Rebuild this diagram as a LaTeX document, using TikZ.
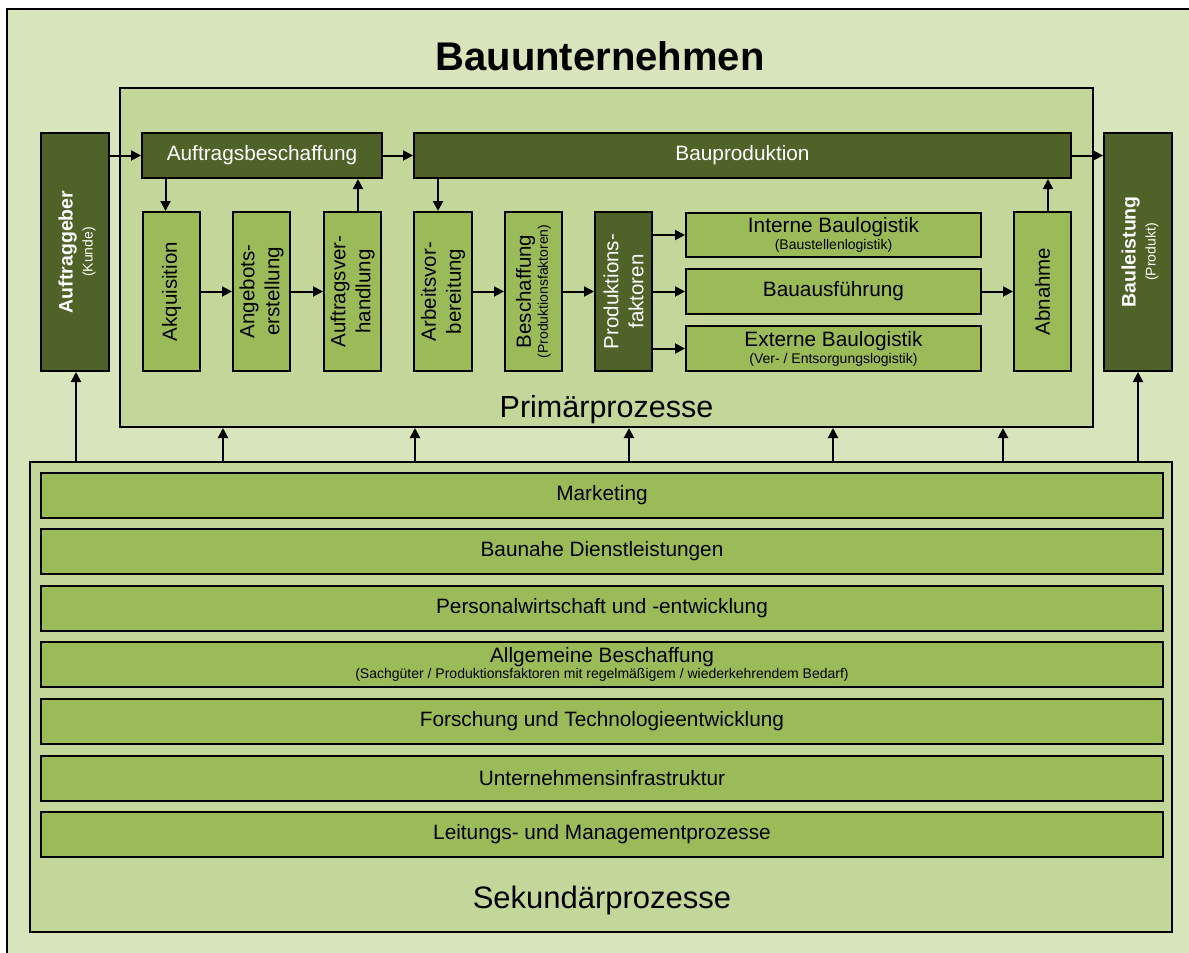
\documentclass[tikz,border=0pt]{standalone}
\usepackage{fontspec}
\setmainfont{Liberation Sans}
\usetikzlibrary{arrows.meta}

\definecolor{bgouter}{HTML}{D8E4BC}
\definecolor{bgpanel}{HTML}{C4D79B}
\definecolor{midgreen}{HTML}{9BBB59}
\definecolor{darkgreen}{HTML}{4F6228}

\newcommand{\fsz}[2]{\fontsize{#1}{#2}\selectfont}
\newcommand{\vlabel}[1]{\rotatebox{90}{#1}}
% two centred lines whose baselines lie exactly #3 apart
\newcommand{\stacktwo}[3]{\vbox{\baselineskip=#3\lineskiplimit=-\maxdimen
  \halign{\hfil##\hfil\cr#1\cr#2\cr}}}

\tikzset{
  box/.style={draw=black, line width=2pt, inner sep=0pt, align=center},
  darkbox/.style={box, fill=darkgreen, text=white},
  lightbox/.style={box, fill=midgreen, text=black},
  panel/.style={box, fill=bgpanel},
  bar/.style={lightbox, minimum width=1122, minimum height=45},
  arr/.style={line width=2pt, -{Triangle[length=10pt,width=10pt]}},
  htext/.style={font=\fsz{20.8}{24}},
}

\begin{document}
\begin{tikzpicture}[x=1pt,y=-1pt]
  \useasboundingbox (0,0) rectangle (1189,953);
  % outer background, framed on the left and top only
  \fill[white] (0,0) rectangle (1189,953);
  \fill[bgouter] (7,9) rectangle (1200,965);
  \draw[line width=2.5pt] (7,965) -- (7,9) -- (1200,9);

  \node[font=\fsz{40}{44}\bfseries] (title) at (600,56) {Bauunternehmen};

  % panels
  \node[panel, minimum width=973, minimum height=339] (prim) at (606.5,257.5) {};
  \node[panel, minimum width=1142, minimum height=470] (sec) at (601,697) {};
  \node[font=\fsz{30.5}{34}] (primlbl) at (606.5,410) {Primärprozesse};
  \node[font=\fsz{31}{34}] (seclbl) at (602,900) {Sekundärprozesse};

  % side boxes
  \node[darkbox, minimum width=68, minimum height=238] (ag) at (75,252)
    {\hspace*{4pt}\vlabel{\stacktwo{\fsz{19.5}{21}\bfseries Auftraggeber}{\fsz{14}{14}(Kunde)}{20pt}}};
  \node[darkbox, minimum width=68, minimum height=238] (bl) at (1138,252)
    {\hspace*{4pt}\vlabel{\stacktwo{\fsz{19.5}{21}\bfseries Bauleistung}{\fsz{14}{14}(Produkt)}{20pt}}};

  % top bars of the primary processes
  \node[darkbox, htext, minimum width=240, minimum height=45] (ab) at (262,155.5) {Auftragsbeschaffung};
  \node[darkbox, htext, minimum width=657, minimum height=45] (bp) at (742.5,155.5) {Bauproduktion};

  % vertical process steps
  \node[lightbox, minimum width=57, minimum height=159] (akq) at (171.5,291.5)
    {\vlabel{\fsz{20.5}{24}Akquisition}};
  \node[lightbox, minimum width=57, minimum height=159] (ang) at (261.5,291.5)
    {\vlabel{\fsz{20.5}{24}\stacktwo{Angebots-}{erstellung}{25pt}}};
  \node[lightbox, minimum width=57, minimum height=159] (av) at (352.5,291.5)
    {\vlabel{\fsz{20.5}{24}\stacktwo{Auftragsver-}{handlung}{25pt}}};
  \node[lightbox, minimum width=58, minimum height=159] (arb) at (443,291.5)
    {\vlabel{\fsz{20.5}{24}\stacktwo{Arbeitsvor-}{bereitung}{25pt}}};
  \node[lightbox, minimum width=57, minimum height=159] (bes) at (533.5,291.5)
    {\vlabel{\stacktwo{\fsz{20.5}{22}Beschaffung}{\fsz{14}{14}(Produktionsfaktoren)}{17pt}}};
  \node[darkbox, minimum width=57, minimum height=159] (pf) at (623.5,291.5)
    {\vlabel{\fsz{20.5}{24}\stacktwo{Produktions-}{faktoren}{25pt}}};
  \node[lightbox, minimum width=57, minimum height=159] (abn) at (1042.5,291.5)
    {\vlabel{\fsz{20.5}{24}Abnahme}};

  % horizontal execution boxes
  \node[lightbox, minimum width=295, minimum height=44] (int) at (833.5,235)
    {\stacktwo{\fsz{20.8}{21}Interne Baulogistik}{\fsz{14}{14}(Baustellenlogistik)}{17pt}};
  \node[lightbox, htext, minimum width=295, minimum height=45] (bau) at (833.5,291.5) {Bauausführung};
  \node[lightbox, minimum width=295, minimum height=45] (ext) at (833.5,348.5)
    {\stacktwo{\fsz{20.8}{21}Externe Baulogistik}{\fsz{14}{14}(Ver- / Entsorgungslogistik)}{17pt}};

  % secondary process bars
  \node[bar] (s1) at (602,495) {\raisebox{-1pt}{\fsz{20.8}{24}Marketing}};
  \node[bar] (s2) at (602,551.6) {\raisebox{-1pt}{\fsz{20.8}{24}Baunahe Dienstleistungen}};
  \node[bar] (s3) at (602,608.2) {\raisebox{-1pt}{\fsz{20.8}{24}Personalwirtschaft und -entwicklung}};
  \node[bar] (s4) at (602,664.8)
    {\stacktwo{\fsz{20.8}{21}Allgemeine Beschaffung}{\fsz{14}{14}(Sachgüter / Produktionsfaktoren mit regelmäßigem / wiederkehrendem Bedarf)}{16pt}};
  \node[bar] (s5) at (602,721.4) {\raisebox{-1pt}{\fsz{20.8}{24}Forschung und Technologieentwicklung}};
  \node[bar] (s6) at (602,778) {\raisebox{-1pt}{\fsz{20.8}{24}Unternehmensinfrastruktur}};
  \node[bar] (s7) at (602,834.6) {\raisebox{-1pt}{\fsz{20.8}{24}Leitungs- und Managementprozesse}};

  % main flow
  \draw[arr] (ag.east |- ab.west) -- (ab.west);
  \draw[arr] (ab.east) -- (bp.west);
  \draw[arr] (bp.east) -- (bl.west |- bp.east);

  % order acquisition chain
  \draw[arr] ([xshift=-6pt]akq.north |- ab.south) -- ([xshift=-6pt]akq.north);
  \draw[arr] (akq.east) -- (ang.west);
  \draw[arr] (ang.east) -- (av.west);
  \draw[arr] ([xshift=5.5pt]av.north) -- ([xshift=5.5pt]av.north |- ab.south);

  % production chain
  \draw[arr] ([xshift=-5pt]arb.north |- bp.south) -- ([xshift=-5pt]arb.north);
  \draw[arr] (arb.east) -- (bes.west);
  \draw[arr] (bes.east) -- (pf.west);
  \draw[arr] (pf.east |- int.west) -- (int.west);
  \draw[arr] (pf.east) -- (bau.west);
  \draw[arr] (pf.east |- ext.west) -- (ext.west);
  \draw[arr] (bau.east) -- (abn.west |- bau.east);
  \draw[arr] ([xshift=5.5pt]abn.north) -- ([xshift=5.5pt]abn.north |- bp.south);

  % support from the secondary processes
  \coordinate (u0) at (76,462);
  \coordinate (u1) at (223,462);
  \coordinate (u2) at (415,462);
  \coordinate (u3) at (629,462);
  \coordinate (u4) at (833,462);
  \coordinate (u5) at (1003,462);
  \coordinate (u6) at (1138,462);
  \draw[arr] (u0) -- (u0 |- ag.south);
  \foreach \c in {u1,u2,u3,u4,u5} \draw[arr] (\c) -- (\c |- prim.south);
  \draw[arr] (u6) -- (u6 |- bl.south);
\end{tikzpicture}
\end{document}
